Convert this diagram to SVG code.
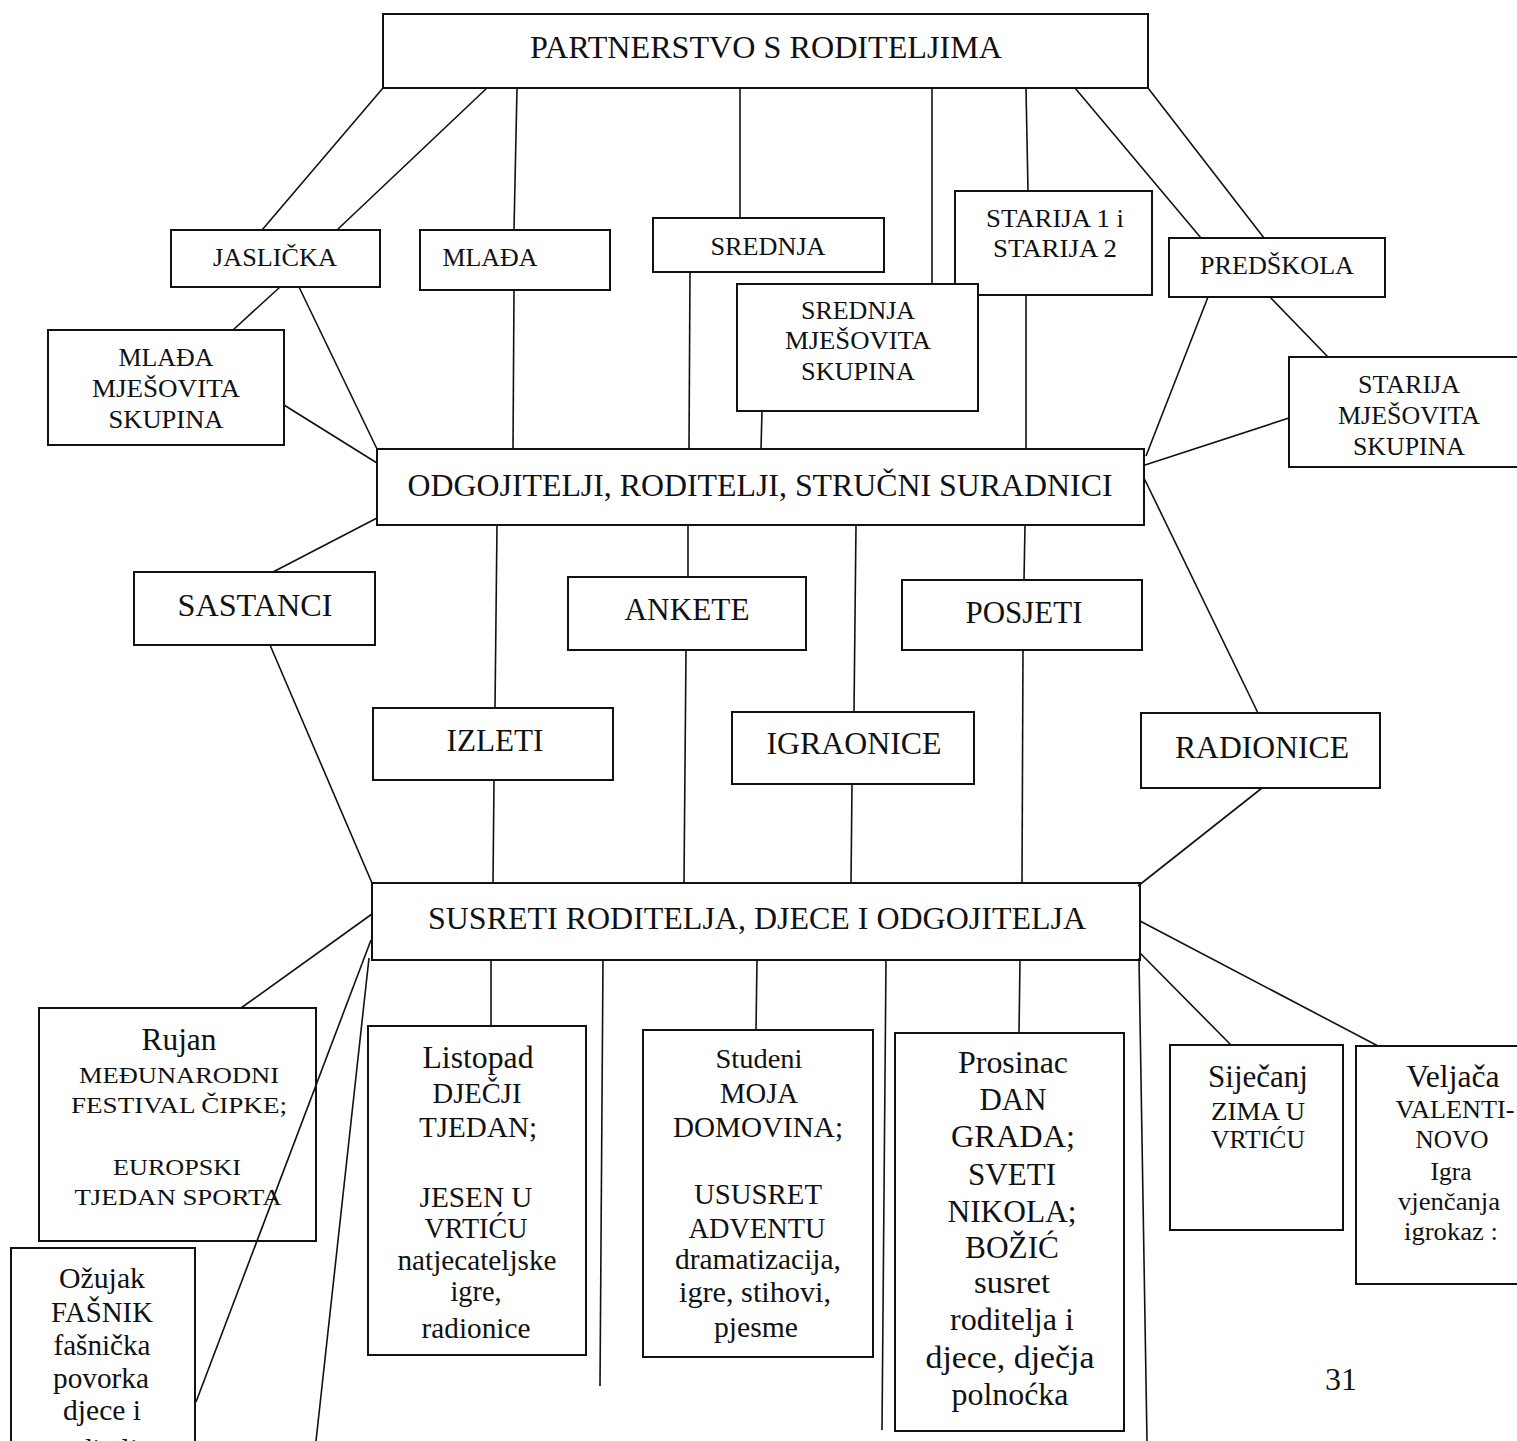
<svg xmlns="http://www.w3.org/2000/svg" width="1517" height="1441" viewBox="0 0 1517 1441">
<style>
rect{fill:#fff;stroke:#111;stroke-width:2}
.c line{stroke:#111;stroke-width:1.6}
text{font-family:"Liberation Serif","Times New Roman",serif;fill:#111;text-anchor:middle}
.big{font-size:31px}
.mid{font-size:26px}
</style>
<rect x="0" y="0" width="1517" height="1441" style="stroke:none"/>
<g id="partnerstvo"><rect x="383" y="14" width="765" height="74"/><text class="big" x="766" y="58" textLength="472" lengthAdjust="spacingAndGlyphs">PARTNERSTVO S RODITELJIMA</text></g>
<g id="jaslicka"><rect x="171" y="230" width="209" height="57"/><text class="mid" x="275" y="266" textLength="124" lengthAdjust="spacingAndGlyphs">JASLIČKA</text></g>
<g id="mlada"><rect x="420" y="230" width="190" height="60"/><text class="mid" x="490" y="266" textLength="95" lengthAdjust="spacingAndGlyphs">MLAĐA</text></g>
<g id="srednja"><rect x="653" y="218" width="231" height="54"/><text class="mid" x="768" y="255" textLength="115" lengthAdjust="spacingAndGlyphs">SREDNJA</text></g>
<g id="starija12"><rect x="955" y="191" width="197" height="104"/><text class="mid" x="1055" y="227" textLength="138" lengthAdjust="spacingAndGlyphs">STARIJA 1 i</text><text class="mid" x="1055" y="257" textLength="124" lengthAdjust="spacingAndGlyphs">STARIJA 2</text></g>
<g id="predskola"><rect x="1169" y="238" width="216" height="59"/><text class="mid" x="1277" y="274" textLength="154" lengthAdjust="spacingAndGlyphs">PREDŠKOLA</text></g>
<g id="srednja-mjesovita"><rect x="737" y="284" width="241" height="127"/><text class="mid" x="858" y="319" textLength="114" lengthAdjust="spacingAndGlyphs">SREDNJA</text><text class="mid" x="858" y="349" textLength="146" lengthAdjust="spacingAndGlyphs">MJEŠOVITA</text><text class="mid" x="858" y="380" textLength="114" lengthAdjust="spacingAndGlyphs">SKUPINA</text></g>
<g id="mlada-mjesovita"><rect x="48" y="330" width="236" height="115"/><text class="mid" x="166" y="366" textLength="95" lengthAdjust="spacingAndGlyphs">MLAĐA</text><text class="mid" x="166" y="397" textLength="148" lengthAdjust="spacingAndGlyphs">MJEŠOVITA</text><text class="mid" x="166" y="428" textLength="115" lengthAdjust="spacingAndGlyphs">SKUPINA</text></g>
<g id="starija-mjesovita"><rect x="1289" y="357" width="240" height="110"/><text class="mid" x="1409" y="393" textLength="102" lengthAdjust="spacingAndGlyphs">STARIJA</text><text class="mid" x="1409" y="424" textLength="142" lengthAdjust="spacingAndGlyphs">MJEŠOVITA</text><text class="mid" x="1409" y="455" textLength="112" lengthAdjust="spacingAndGlyphs">SKUPINA</text></g>
<g id="odgojitelji"><rect x="377" y="449" width="767" height="76"/><text class="big" x="760" y="496" textLength="705" lengthAdjust="spacingAndGlyphs">ODGOJITELJI, RODITELJI, STRUČNI SURADNICI</text></g>
<g id="sastanci"><rect x="134" y="572" width="241" height="73"/><text class="big" x="255" y="616" textLength="155" lengthAdjust="spacingAndGlyphs">SASTANCI</text></g>
<g id="ankete"><rect x="568" y="577" width="238" height="73"/><text class="big" x="687" y="620" textLength="125" lengthAdjust="spacingAndGlyphs">ANKETE</text></g>
<g id="posjeti"><rect x="902" y="580" width="240" height="70"/><text class="big" x="1024" y="623" textLength="117" lengthAdjust="spacingAndGlyphs">POSJETI</text></g>
<g id="izleti"><rect x="373" y="708" width="240" height="72"/><text class="big" x="495" y="751" textLength="97" lengthAdjust="spacingAndGlyphs">IZLETI</text></g>
<g id="igraonice"><rect x="732" y="712" width="242" height="72"/><text class="big" x="854" y="754" textLength="175" lengthAdjust="spacingAndGlyphs">IGRAONICE</text></g>
<g id="radionice"><rect x="1141" y="713" width="239" height="75"/><text class="big" x="1262" y="758" textLength="174" lengthAdjust="spacingAndGlyphs">RADIONICE</text></g>
<g id="susreti"><rect x="372" y="883" width="768" height="77"/><text class="big" x="757" y="929" textLength="658" lengthAdjust="spacingAndGlyphs">SUSRETI RODITELJA, DJECE I ODGOJITELJA</text></g>
<g id="rujan"><rect x="39" y="1008" width="277" height="233"/>
<text x="179" y="1050" font-size="31" textLength="75" lengthAdjust="spacingAndGlyphs">Rujan</text>
<text x="179" y="1083" font-size="24" textLength="200" lengthAdjust="spacingAndGlyphs">MEĐUNARODNI</text>
<text x="179" y="1113" font-size="24" textLength="216" lengthAdjust="spacingAndGlyphs">FESTIVAL ČIPKE;</text>
<text x="177" y="1175" font-size="24" textLength="128" lengthAdjust="spacingAndGlyphs">EUROPSKI</text>
<text x="178" y="1205" font-size="24" textLength="207" lengthAdjust="spacingAndGlyphs">TJEDAN SPORTA</text></g>
<g id="ozujak"><rect x="11" y="1248" width="184" height="210"/>
<text x="102" y="1288" font-size="29" textLength="86" lengthAdjust="spacingAndGlyphs">Ožujak</text>
<text x="102" y="1322" font-size="29" textLength="102" lengthAdjust="spacingAndGlyphs">FAŠNIK</text>
<text x="102" y="1355" font-size="29" textLength="97" lengthAdjust="spacingAndGlyphs">fašnička</text>
<text x="101" y="1388" font-size="29" textLength="96" lengthAdjust="spacingAndGlyphs">povorka</text>
<text x="102" y="1420" font-size="29" textLength="78" lengthAdjust="spacingAndGlyphs">djece i</text>
<text x="102" y="1459" font-size="29" textLength="98" lengthAdjust="spacingAndGlyphs">roditelja</text></g>
<g id="listopad"><rect x="368" y="1026" width="218" height="329"/>
<text x="478" y="1068" font-size="31" textLength="111" lengthAdjust="spacingAndGlyphs">Listopad</text>
<text x="477" y="1103" font-size="29" textLength="89" lengthAdjust="spacingAndGlyphs">DJEČJI</text>
<text x="478" y="1137" font-size="29" textLength="118" lengthAdjust="spacingAndGlyphs">TJEDAN;</text>
<text x="476" y="1207" font-size="29" textLength="113" lengthAdjust="spacingAndGlyphs">JESEN U</text>
<text x="476" y="1238" font-size="29" textLength="103" lengthAdjust="spacingAndGlyphs">VRTIĆU</text>
<text x="477" y="1270" font-size="29" textLength="159" lengthAdjust="spacingAndGlyphs">natjecateljske</text>
<text x="476" y="1301" font-size="29" textLength="51" lengthAdjust="spacingAndGlyphs">igre,</text>
<text x="476" y="1338" font-size="29" textLength="109" lengthAdjust="spacingAndGlyphs">radionice</text></g>
<g id="studeni"><rect x="643" y="1030" width="230" height="327"/>
<text x="759" y="1068" font-size="27" textLength="87" lengthAdjust="spacingAndGlyphs">Studeni</text>
<text x="759" y="1103" font-size="29" textLength="78" lengthAdjust="spacingAndGlyphs">MOJA</text>
<text x="758" y="1137" font-size="29" textLength="170" lengthAdjust="spacingAndGlyphs">DOMOVINA;</text>
<text x="758" y="1204" font-size="29" textLength="128" lengthAdjust="spacingAndGlyphs">USUSRET</text>
<text x="757" y="1238" font-size="29" textLength="137" lengthAdjust="spacingAndGlyphs">ADVENTU</text>
<text x="758" y="1269" font-size="29" textLength="166" lengthAdjust="spacingAndGlyphs">dramatizacija,</text>
<text x="755" y="1302" font-size="29" textLength="152" lengthAdjust="spacingAndGlyphs">igre, stihovi,</text>
<text x="756" y="1337" font-size="29" textLength="84" lengthAdjust="spacingAndGlyphs">pjesme</text></g>
<g id="prosinac"><rect x="895" y="1033" width="229" height="398"/>
<text x="1013" y="1073" font-size="31" textLength="110" lengthAdjust="spacingAndGlyphs">Prosinac</text>
<text x="1013" y="1110" font-size="31" textLength="67" lengthAdjust="spacingAndGlyphs">DAN</text>
<text x="1013" y="1147" font-size="31" textLength="124" lengthAdjust="spacingAndGlyphs">GRADA;</text>
<text x="1012" y="1185" font-size="31" textLength="88" lengthAdjust="spacingAndGlyphs">SVETI</text>
<text x="1012" y="1222" font-size="31" textLength="129" lengthAdjust="spacingAndGlyphs">NIKOLA;</text>
<text x="1012" y="1258" font-size="31" textLength="94" lengthAdjust="spacingAndGlyphs">BOŽIĆ</text>
<text x="1012" y="1293" font-size="31" textLength="76" lengthAdjust="spacingAndGlyphs">susret</text>
<text x="1012" y="1330" font-size="31" textLength="124" lengthAdjust="spacingAndGlyphs">roditelja i</text>
<text x="1010" y="1368" font-size="31" textLength="169" lengthAdjust="spacingAndGlyphs">djece,  dječja</text>
<text x="1010" y="1405" font-size="31" textLength="117" lengthAdjust="spacingAndGlyphs">polnoćka</text></g>
<g id="sijecanj"><rect x="1170" y="1045" width="173" height="185"/>
<text x="1258" y="1087" font-size="31" textLength="100" lengthAdjust="spacingAndGlyphs">Siječanj</text>
<text x="1258" y="1120" font-size="25" textLength="94" lengthAdjust="spacingAndGlyphs">ZIMA U</text>
<text x="1258" y="1148" font-size="25" textLength="94" lengthAdjust="spacingAndGlyphs">VRTIĆU</text></g>
<g id="veljaca"><rect x="1356" y="1046" width="175" height="238"/>
<text x="1453" y="1087" font-size="31" textLength="93" lengthAdjust="spacingAndGlyphs">Veljača</text>
<text x="1455" y="1118" font-size="25" textLength="119" lengthAdjust="spacingAndGlyphs">VALENTI-</text>
<text x="1452" y="1148" font-size="25" textLength="73" lengthAdjust="spacingAndGlyphs">NOVO</text>
<text x="1451" y="1180" font-size="26" textLength="41" lengthAdjust="spacingAndGlyphs">Igra</text>
<text x="1449" y="1210" font-size="26" textLength="102" lengthAdjust="spacingAndGlyphs">vjenčanja</text>
<text x="1451" y="1240" font-size="26" textLength="94" lengthAdjust="spacingAndGlyphs">igrokaz :</text></g>
<text x="1341" y="1390" font-size="32" textLength="32" lengthAdjust="spacingAndGlyphs">31</text>
<g class="c" id="connectors">
<line x1="383" y1="88" x2="262" y2="230"/>
<line x1="487" y1="88" x2="337" y2="230"/>
<line x1="517" y1="88" x2="514" y2="230"/>
<line x1="740" y1="88" x2="740" y2="218"/>
<line x1="932" y1="88" x2="932" y2="284"/>
<line x1="1026" y1="88" x2="1028" y2="191"/>
<line x1="1075" y1="88" x2="1201" y2="238"/>
<line x1="1148" y1="88" x2="1264" y2="238"/>
<line x1="280" y1="287" x2="233" y2="330"/>
<line x1="299" y1="287" x2="377" y2="449"/>
<line x1="284" y1="405" x2="377" y2="463"/>
<line x1="514" y1="290" x2="513" y2="449"/>
<line x1="690" y1="272" x2="689" y2="449"/>
<line x1="762" y1="411" x2="761" y2="449"/>
<line x1="1026" y1="295" x2="1026" y2="449"/>
<line x1="1208" y1="297" x2="1146" y2="456"/>
<line x1="1270" y1="297" x2="1328" y2="357"/>
<line x1="1289" y1="418" x2="1145" y2="465"/>
<line x1="377" y1="518" x2="273" y2="572"/>
<line x1="497" y1="525" x2="495" y2="708"/>
<line x1="688" y1="525" x2="688" y2="577"/>
<line x1="856" y1="525" x2="854" y2="712"/>
<line x1="1025" y1="525" x2="1024" y2="580"/>
<line x1="1144" y1="478" x2="1258" y2="713"/>
<line x1="270" y1="645" x2="372" y2="883"/>
<line x1="494" y1="780" x2="493" y2="883"/>
<line x1="686" y1="650" x2="684" y2="883"/>
<line x1="852" y1="784" x2="851" y2="883"/>
<line x1="1023" y1="650" x2="1022" y2="883"/>
<line x1="1262" y1="788" x2="1138" y2="886"/>
<line x1="372" y1="914" x2="241" y2="1008"/>
<line x1="371" y1="940" x2="196" y2="1402"/>
<line x1="369" y1="958" x2="316" y2="1441"/>
<line x1="491" y1="960" x2="491" y2="1026"/>
<line x1="603" y1="960" x2="600" y2="1386"/>
<line x1="757" y1="960" x2="756" y2="1030"/>
<line x1="886" y1="960" x2="882" y2="1430"/>
<line x1="1020" y1="960" x2="1019" y2="1033"/>
<line x1="1139" y1="958" x2="1147" y2="1441"/>
<line x1="1140" y1="953" x2="1231" y2="1045"/>
<line x1="1140" y1="921" x2="1378" y2="1046"/>
</g>
</svg>
